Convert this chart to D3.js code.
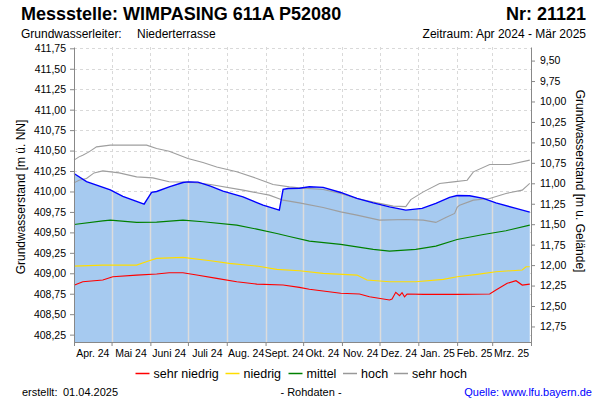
<!DOCTYPE html>
<html><head><meta charset="utf-8">
<script src="https://cdn.jsdelivr.net/npm/d3@7"></script>
<style>body{margin:0;background:#fff} svg{display:block} text{font-family:"Liberation Sans",Arial,sans-serif}</style>
</head><body><svg id="c" width="600" height="400"></svg>
<script>
// ---- data ----
const monthLabels = ["Apr. 24","Mai 24","Juni 24","Juli 24","Aug. 24","Sept. 24","Okt. 24","Nov. 24","Dez. 24","Jan. 25","Feb. 25","Mrz. 25"];
const leftTicks = [408.25,408.5,408.75,409,409.25,409.5,409.75,410,410.25,410.5,410.75,411,411.25,411.5,411.75];
const rightTicks = [9.5,9.75,10,10.25,10.5,10.75,11,11.25,11.5,11.75,12,12.25,12.5,12.75];
const groundLevel = 421.10;

const currentDates = ["2024-04-01","2024-04-11","2024-04-30","2024-05-10","2024-05-27","2024-05-29","2024-06-02","2024-06-06","2024-06-16","2024-06-27","2024-07-01","2024-07-09","2024-07-19","2024-07-29","2024-08-14","2024-08-30","2024-09-12","2024-09-15","2024-09-19","2024-09-28","2024-10-06","2024-10-17","2024-10-31","2024-11-13","2024-11-26","2024-12-09","2024-12-22","2025-01-04","2025-01-15","2025-01-26","2025-02-01","2025-02-11","2025-02-22","2025-03-04","2025-03-20","2025-03-31"];
const currentValues = [410.22,410.12,410.02,409.94,409.845,409.894,409.99,410.00,410.056,410.11,410.117,410.114,410.065,410.004,409.934,409.833,409.772,410.025,410.037,410.04,410.057,410.05,409.988,409.915,409.861,409.812,409.772,409.793,409.854,409.927,409.951,409.947,409.915,409.861,409.793,409.748];

const sehrHochDates = ["2024-04-01","2024-04-05","2024-04-08","2024-04-13","2024-04-19","2024-04-30","2024-05-29","2024-06-06","2024-06-16","2024-07-01","2024-07-13","2024-07-24","2024-08-09","2024-08-25","2024-09-07","2024-09-20","2024-09-28","2024-10-17","2024-10-31","2024-11-13","2024-11-29","2024-12-12","2024-12-22","2024-12-26","2025-01-05","2025-01-18","2025-01-29","2025-02-09","2025-02-14","2025-02-27","2025-03-15","2025-03-31"];
const sehrHochValues = [410.383,410.423,410.444,410.484,410.545,410.566,410.566,410.525,410.492,410.403,410.354,410.30,410.24,410.159,410.086,410.056,410.044,410.025,409.976,409.915,409.861,409.821,409.815,409.90,409.995,410.098,410.117,410.138,410.24,410.33,410.33,410.383];

const hochDates = ["2024-04-01","2024-04-05","2024-04-11","2024-04-17","2024-04-24","2024-05-07","2024-05-21","2024-06-03","2024-06-16","2024-07-03","2024-07-19","2024-08-14","2024-09-04","2024-09-15","2024-09-28","2024-10-17","2024-10-31","2024-11-13","2024-12-01","2024-12-22","2025-01-05","2025-01-15","2025-01-23","2025-01-30","2025-02-01","2025-02-03","2025-02-14","2025-02-27","2025-03-12","2025-03-25","2025-03-31"];
const hochValues = [410.105,410.138,410.159,410.227,410.252,410.227,410.179,410.166,410.118,410.114,410.086,410.016,409.955,409.894,409.861,409.805,409.751,409.711,409.65,409.658,409.65,409.622,409.683,409.732,409.805,409.833,409.894,409.915,409.976,410.016,410.098];

const mittelDates = ["2024-04-01","2024-04-24","2024-04-30","2024-05-21","2024-06-06","2024-06-27","2024-07-13","2024-08-09","2024-08-25","2024-09-10","2024-09-20","2024-10-06","2024-10-31","2024-11-26","2024-12-09","2024-12-30","2025-01-15","2025-02-01","2025-02-22","2025-03-12","2025-03-31"];
const mittelValues = [409.597,409.641,409.65,409.622,409.625,409.65,409.629,409.589,409.54,409.487,409.45,409.393,409.353,409.292,409.271,409.292,409.332,409.414,409.475,409.52,409.589];

const niedrigDates = ["2024-04-01","2024-04-24","2024-05-21","2024-05-31","2024-06-06","2024-06-27","2024-07-19","2024-08-03","2024-08-25","2024-09-10","2024-09-28","2024-10-17","2024-11-13","2024-11-21","2024-12-09","2024-12-30","2025-01-21","2025-02-01","2025-02-17","2025-03-04","2025-03-25","2025-03-28","2025-03-31"];
const niedrigValues = [409.088,409.10,409.10,409.153,409.182,409.194,409.153,409.121,409.088,409.048,409.031,408.999,408.978,408.917,408.897,408.897,408.926,408.958,408.987,409.019,409.04,409.08,409.08];

const sehrNiedrigDates = ["2024-04-01","2024-04-08","2024-04-24","2024-05-02","2024-05-21","2024-06-06","2024-06-16","2024-06-27","2024-07-08","2024-07-24","2024-08-09","2024-08-25","2024-09-15","2024-09-28","2024-10-06","2024-10-31","2024-11-15","2024-11-23","2024-12-09","2024-12-11","2024-12-14","2024-12-17","2024-12-19","2024-12-21","2024-12-23","2025-01-05","2025-02-01","2025-02-27","2025-03-04","2025-03-13","2025-03-20","2025-03-25","2025-03-31"];
const sehrNiedrigValues = [408.853,408.897,408.917,408.958,408.978,408.991,409.006,409.006,408.978,408.938,408.897,408.868,408.856,408.828,408.804,408.755,408.746,408.713,408.673,408.685,408.767,408.726,408.762,408.713,408.746,408.742,408.742,408.746,408.795,408.877,408.909,408.856,408.868];

const legendNames = ["sehr niedrig","niedrig","mittel","hoch","sehr hoch"];
const legendColors = ["#ff0000","#ffdd00","#008000","#999999","#999999"];

// ---- chart ----
const parse = d3.utcParse("%Y-%m-%d");
const zip = (ds, vs) => ds.map((d,i)=>({date:parse(d), v:vs[i]}));
const svg = d3.select("#c");
const L=74, R=531, T=47, B=342;
const start = parse("2024-04-01"), end = parse("2025-04-01");
const x = d3.scaleUtc().domain([start,end]).range([L,R]);
const y = d3.scaleLinear().domain([408.16,411.766]).range([B,T]);
const yR = d3.scaleLinear().domain([groundLevel-408.16, groundLevel-411.766]).range([B,T]);
const months = d3.utcMonth.range(start, d3.utcMonth.offset(end,1));
const fmt = d => d3.format(".2f")(d).replace(".", ",");

// grid
const grid = svg.append("g").attr("stroke","#d9d9d9").attr("stroke-dasharray","3,3").attr("stroke-width",1);
leftTicks.forEach(v=>grid.append("line").attr("x1",L).attr("x2",R).attr("y1",Math.round(y(v))+0.5).attr("y2",Math.round(y(v))+0.5));
months.slice(1,-1).forEach(m=>grid.append("line").attr("x1",Math.round(x(m))+0.5).attr("x2",Math.round(x(m))+0.5).attr("y1",T).attr("y2",B));

// area
const cur = zip(currentDates,currentValues);
const area = d3.area().x(d=>x(d.date)).y0(B).y1(d=>y(d.v));
svg.append("path").attr("d",area(cur)).attr("fill","#a6caf0");
svg.append("clipPath").attr("id","ac").append("path").attr("d",area(cur));
const vg = svg.append("g").attr("clip-path","url(#ac)").attr("stroke","#dcdcdc").attr("stroke-width",1.5);
months.slice(1,-1).forEach(m=>vg.append("line").attr("x1",Math.round(x(m))+0.5).attr("x2",Math.round(x(m))+0.5).attr("y1",T).attr("y2",B));

// lines
const line = d3.line().x(d=>x(d.date)).y(d=>y(d.v));
const series = [
  [sehrNiedrigDates,sehrNiedrigValues,"#ff0000",1.1],
  [niedrigDates,niedrigValues,"#ffdd00",1.1],
  [mittelDates,mittelValues,"#008000",1.1],
  [hochDates,hochValues,"#9e9e9e",1.1],
  [sehrHochDates,sehrHochValues,"#9e9e9e",1.1],
  [currentDates,currentValues,"#0000ff",1.4]
];
series.forEach(s=>svg.append("path").attr("d",line(zip(s[0],s[1]))).attr("fill","none").attr("stroke",s[2]).attr("stroke-width",s[3]));

// axes
function styleAxis(g){
  g.selectAll(".domain").attr("stroke","#888");
  g.selectAll(".tick line").attr("stroke","#888");
  g.selectAll("text").attr("fill","#000").style("font-size","10.5px").style("font-family","'Liberation Sans',Arial,sans-serif");
}
svg.append("g").attr("transform",`translate(${L},0)`)
  .call(d3.axisLeft(y).tickValues(leftTicks).tickFormat(fmt).tickSize(4).tickPadding(4).tickSizeOuter(0)).call(styleAxis);
svg.append("g").attr("transform",`translate(${R},0)`)
  .call(d3.axisRight(yR).tickValues(rightTicks).tickFormat(fmt).tickSize(4).tickPadding(5).tickSizeOuter(0)).call(styleAxis);
svg.append("g").attr("transform",`translate(0,${B})`)
  .call(d3.axisBottom(x).tickValues(months).tickFormat("").tickSize(4).tickSizeOuter(0)).call(styleAxis);
svg.selectAll(".domain").attr("fill","none");
// month labels
monthLabels.forEach((t,i)=>{
  const mid = x(new Date((months[i].getTime()+months[i+1].getTime())/2));
  svg.append("text").attr("x",mid).attr("y",357).attr("text-anchor","middle").style("font-size","10.5px").text(t);
});

// titles
svg.append("text").attr("x",21).attr("y",20).style("font-size","18px").style("font-weight","bold").text("Messstelle: WIMPASING 611A P52080");
svg.append("text").attr("x",586).attr("y",20).attr("text-anchor","end").style("font-size","18px").style("font-weight","bold").text("Nr: 21121");
svg.append("text").attr("x",21).attr("y",38).style("font-size","12px").text("Grundwasserleiter:");
svg.append("text").attr("x",137).attr("y",38).style("font-size","12px").text("Niederterrasse");
svg.append("text").attr("x",586).attr("y",38).attr("text-anchor","end").style("font-size","12px").text("Zeitraum: Apr 2024 - Mär 2025");
svg.append("text").attr("transform","translate(25,197) rotate(-90)").attr("text-anchor","middle").style("font-size","12px").text("Grundwasserstand [m ü. NN]");
svg.append("text").attr("transform","translate(576,181) rotate(90)").attr("text-anchor","middle").style("font-size","12px").text("Grundwasserstand [m u. Gelände]");

// legend
const legX = [135.5,225.5,288.5,343,394];
legendNames.forEach((n,i)=>{
  svg.append("line").attr("x1",legX[i]).attr("x2",legX[i]+14).attr("y1",373.5).attr("y2",373.5).attr("stroke",legendColors[i]).attr("stroke-width",1.5);
  svg.append("text").attr("x",legX[i]+18).attr("y",378).style("font-size","12.5px").text(n);
});

// footer
svg.append("text").attr("x",22).attr("y",396).style("font-size","11px").text("erstellt:");
svg.append("text").attr("x",63).attr("y",396).style("font-size","11px").text("01.04.2025");
svg.append("text").attr("x",311).attr("y",396).attr("text-anchor","middle").style("font-size","11px").text("- Rohdaten -");
svg.append("text").attr("x",592).attr("y",396).attr("text-anchor","end").attr("fill","#0000ff").style("font-size","11px").text("Quelle: www.lfu.bayern.de");
</script></body></html>
